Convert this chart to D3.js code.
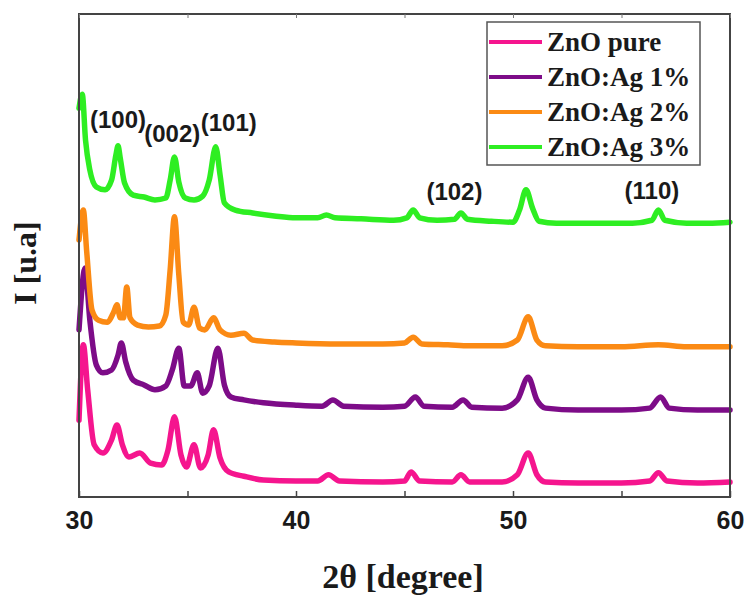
<!DOCTYPE html>
<html lang="en">
<head>
    <meta charset="UTF-8">
    <script src="https://cdn.jsdelivr.net/npm/d3@7"></script>
    <title>XRD ZnO:Ag</title>
    <style>
        body { margin: 0; background: #fff; }
        svg { display: block; }
    </style>
</head>
<body>
    <div class="fig"></div>

    <script>
        // ---- data: [2theta, intensity (a.u., stacked offsets as plotted)] ----
        const znoPure = [
            [30.0, 15.9], [30.2, 31.5], [30.4, 22.2], [30.7, 10.8], [31.1, 9.1], [31.5, 11.8],
            [31.75, 14.9], [32.0, 10.8], [32.3, 8.3], [32.8, 9.1], [33.3, 7.0], [33.8, 6.6],
            [34.1, 9.7], [34.4, 16.6], [34.7, 8.7], [34.95, 6.2], [35.3, 10.8], [35.6, 6.0],
            [35.95, 8.7], [36.2, 13.9], [36.5, 8.1], [36.9, 5.2], [37.6, 4.3], [38.5, 3.5],
            [40.0, 3.3], [41.0, 3.3], [41.5, 4.6], [42.0, 3.3], [44.0, 3.1], [45.0, 3.3],
            [45.3, 5.2], [45.7, 3.3], [47.2, 3.1], [47.6, 4.6], [48.0, 3.1], [49.5, 3.1],
            [50.2, 4.6], [50.7, 9.1], [51.1, 4.6], [51.5, 3.1], [53.0, 2.9], [55.0, 2.9],
            [56.3, 3.3], [56.7, 5.0], [57.1, 3.3], [58.5, 2.9], [60.0, 3.1]
        ];
        const znoAg1 = [
            [30.0, 34.6], [30.28, 47.4], [30.5, 36.6], [30.8, 27.3], [31.1, 25.7], [31.5, 26.3],
            [31.8, 29.4], [31.95, 31.9], [32.15, 28.0], [32.5, 24.2], [33.0, 23.2], [33.5, 22.2],
            [34.0, 23.0], [34.3, 26.3], [34.6, 30.8], [34.85, 23.0], [35.15, 23.0], [35.45, 25.7],
            [35.7, 21.5], [36.0, 23.0], [36.4, 30.8], [36.7, 23.2], [37.0, 20.7], [37.6, 20.1],
            [38.5, 19.5], [40.0, 19.0], [41.2, 18.8], [41.7, 20.1], [42.2, 18.8], [44.0, 18.6],
            [45.0, 18.8], [45.5, 20.7], [45.9, 18.8], [47.2, 18.6], [47.7, 20.1], [48.1, 18.6],
            [49.5, 18.4], [50.2, 20.1], [50.7, 24.8], [51.1, 20.1], [51.5, 18.4], [53.0, 18.0],
            [55.0, 18.0], [56.3, 18.4], [56.8, 20.7], [57.2, 18.4], [58.5, 18.0], [60.0, 18.0]
        ];
        const znoAg2 = [
            [30.0, 53.2], [30.2, 59.4], [30.35, 51.1], [30.6, 38.7], [30.9, 36.6], [31.3, 36.2],
            [31.6, 38.3], [31.75, 39.8], [31.9, 37.1], [32.05, 37.1], [32.2, 43.5], [32.35, 37.1],
            [32.7, 35.6], [33.2, 35.2], [33.7, 35.4], [34.0, 37.7], [34.2, 47.0], [34.4, 58.0],
            [34.6, 46.0], [34.8, 36.2], [35.05, 35.6], [35.3, 39.3], [35.55, 35.0], [35.8, 34.6],
            [36.2, 37.1], [36.5, 34.6], [37.0, 33.5], [37.6, 33.9], [38.0, 32.5], [39.0, 32.1],
            [40.0, 31.9], [42.0, 31.7], [44.0, 31.7], [45.0, 31.9], [45.4, 33.1], [45.8, 31.7],
            [47.0, 31.5], [48.0, 31.3], [49.5, 31.3], [50.2, 32.5], [50.7, 37.3], [51.1, 32.5],
            [51.5, 31.3], [53.0, 31.1], [55.0, 31.1], [56.7, 31.5], [58.0, 31.1], [60.0, 31.1]
        ];
        const znoAg3 = [
            [30.0, 80.5], [30.15, 83.4], [30.3, 73.9], [30.5, 67.7], [30.8, 64.2], [31.2, 63.6],
            [31.5, 65.6], [31.7, 70.8], [31.8, 72.7], [31.9, 70.2], [32.1, 65.0], [32.5, 62.5],
            [33.0, 62.1], [33.5, 61.5], [34.0, 61.9], [34.2, 65.6], [34.4, 70.4], [34.6, 65.2],
            [34.9, 61.9], [35.3, 61.5], [35.7, 62.3], [36.0, 65.6], [36.3, 72.5], [36.5, 66.7],
            [36.7, 60.9], [37.2, 59.4], [38.0, 58.8], [39.0, 58.2], [40.0, 57.8], [41.0, 57.8],
            [41.4, 58.4], [41.8, 57.8], [43.0, 57.6], [44.5, 57.3], [45.1, 57.8], [45.4, 59.4],
            [45.7, 57.8], [46.5, 57.3], [47.3, 57.5], [47.6, 58.8], [47.9, 57.5], [49.0, 57.1],
            [50.0, 56.9], [50.3, 59.4], [50.6, 63.6], [50.9, 59.8], [51.2, 57.1], [52.0, 56.7],
            [54.0, 56.7], [55.5, 56.7], [56.4, 57.3], [56.7, 59.4], [57.0, 57.3], [58.0, 56.7],
            [59.0, 56.7], [60.0, 56.9]
        ];

        const seriesNames = ["ZnO pure", "ZnO:Ag 1%", "ZnO:Ag 2%", "ZnO:Ag 3%"];
        const seriesData = [znoPure, znoAg1, znoAg2, znoAg3];
        const seriesColors = ["#f5158e", "#7d0c88", "#fb8a14", "#2eee22"];

        // peak labels (hkl) and where they sit: [2theta, intensity]
        const peakLabels = ["(100)", "(002)", "(101)", "(102)", "(110)"];
        const peakPos = [[31.8, 76.5], [34.3, 73.5], [36.9, 75.8], [47.3, 61.5], [56.4, 61.8]];

        const xTicks = [30, 35, 40, 45, 50, 55, 60];

        /*------------------- Window setting --------------------*/
        const width = 747, height = 595;
        const margin = { top: 14, right: 17, bottom: 98, left: 79 };

        const svg = d3.select(".fig").append("svg")
            .attr("width", width)
            .attr("height", height);

        const x = d3.scaleLinear().domain([30, 60]).range([margin.left, width - margin.right]);
        const y = d3.scaleLinear().domain([0, 100]).range([height - margin.bottom, margin.top]);

        // traces
        const line = d3.line()
            .x(d => x(d[0]))
            .y(d => y(d[1]))
            .curve(d3.curveMonotoneX);

        svg.append("g")
            .selectAll("path")
            .data(seriesData)
            .enter()
            .append("path")
            .attr("d", d => line(d))
            .attr("fill", "none")
            .attr("stroke", (d, i) => seriesColors[i])
            .attr("stroke-width", 5.5)
            .attr("stroke-linejoin", "round")
            .attr("stroke-linecap", "round");

        // frame
        svg.append("rect")
            .attr("x", x(30))
            .attr("y", y(100))
            .attr("width", x(60) - x(30))
            .attr("height", y(0) - y(100))
            .attr("fill", "none")
            .attr("stroke", "#444")
            .attr("stroke-width", 2);

        // bottom axis, ticks pointing in
        const xAxis = d3.axisBottom(x)
            .tickValues(xTicks)
            .tickSize(-6)
            .tickPadding(14)
            .tickFormat(d => d % 10 === 0 ? d : "");

        const gx = svg.append("g")
            .attr("transform", `translate(0,${y(0)})`)
            .call(xAxis);
        gx.select(".domain").remove();
        gx.selectAll("line").attr("stroke", "#444").attr("stroke-width", 1.5);
        gx.selectAll("text")
            .attr("font-family", "Liberation Sans, Arial, sans-serif")
            .attr("font-weight", "bold")
            .attr("font-size", 25)
            .attr("fill", "#1a1a1a");

        // top ticks, no labels
        const gxTop = svg.append("g")
            .attr("transform", `translate(0,${y(100)})`)
            .call(d3.axisTop(x).tickValues(xTicks).tickSize(-4).tickFormat(""));
        gxTop.select(".domain").remove();
        gxTop.selectAll("line").attr("stroke", "#777").attr("stroke-width", 1);

        // axis titles
        svg.append("text")
            .attr("x", 403)
            .attr("y", 588)
            .attr("text-anchor", "middle")
            .attr("font-family", "Liberation Serif, Times New Roman, serif")
            .attr("font-weight", "bold")
            .attr("font-size", 34)
            .attr("fill", "#1a1a1a")
            .text("2θ [degree]");

        svg.append("text")
            .attr("transform", "translate(36,263) rotate(-90)")
            .attr("text-anchor", "middle")
            .attr("font-family", "Liberation Serif, Times New Roman, serif")
            .attr("font-weight", "bold")
            .attr("font-size", 32)
            .attr("fill", "#1a1a1a")
            .text("I [u.a]");

        // peak labels
        svg.append("g")
            .selectAll("text")
            .data(peakLabels)
            .enter()
            .append("text")
            .attr("x", (d, i) => x(peakPos[i][0]))
            .attr("y", (d, i) => y(peakPos[i][1]))
            .attr("text-anchor", "middle")
            .attr("font-family", "Liberation Sans, Arial, sans-serif")
            .attr("font-weight", "bold")
            .attr("font-size", 24)
            .attr("fill", "#1a1a1a")
            .text(d => d);

        // legend
        const legend = svg.append("g").attr("transform", "translate(487,22)");
        legend.append("rect")
            .attr("width", 213)
            .attr("height", 143)
            .attr("fill", "#fff")
            .attr("stroke", "#555")
            .attr("stroke-width", 1.5);

        const rows = legend.selectAll("g.row")
            .data(seriesNames)
            .enter()
            .append("g")
            .attr("class", "row")
            .attr("transform", (d, i) => `translate(0,${20 + i * 35})`);

        rows.append("line")
            .attr("x1", 2).attr("x2", 55)
            .attr("stroke", (d, i) => seriesColors[i])
            .attr("stroke-width", 4);

        rows.append("text")
            .attr("x", 60)
            .attr("y", 9)
            .attr("font-family", "Liberation Serif, Times New Roman, serif")
            .attr("font-weight", "bold")
            .attr("font-size", 27)
            .attr("fill", "#1a1a1a")
            .text(d => d);
    </script>
</body>
</html>
